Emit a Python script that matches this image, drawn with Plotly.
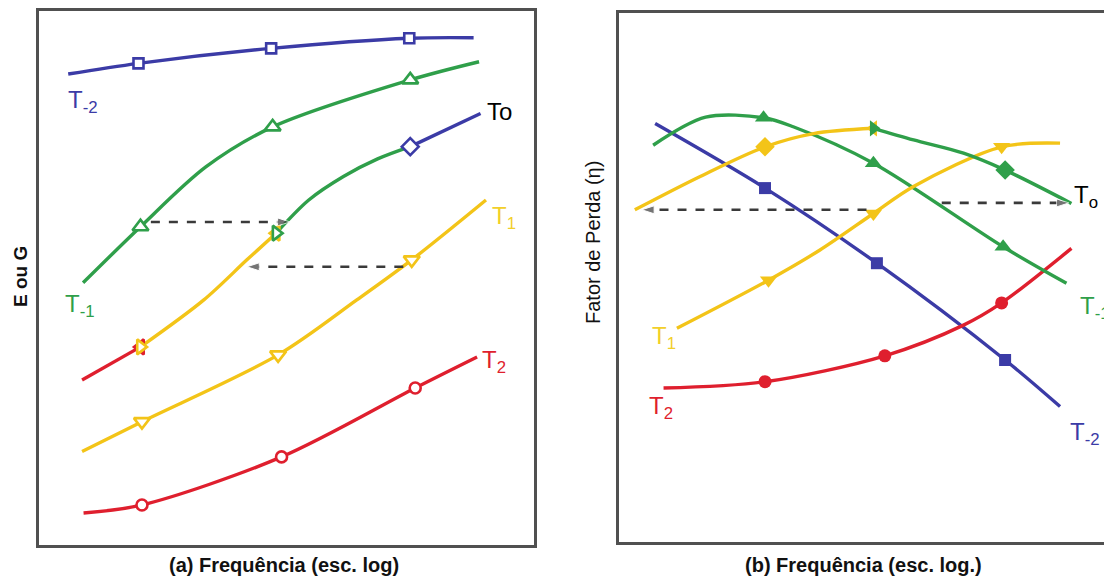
import plotly.graph_objects as go

BLUE = "#3b3ba6"
GREEN = "#2f9f4a"
YELLOW = "#f3c418"
RED = "#df1f2e"
FRAME = "#505050"
ARROW = "#3a3a3a"
FONT = "Liberation Sans, Arial, sans-serif"

# ---------------- Panel (a): E ou G vs log frequency (schematic units) ----------------
a_x_Tm2 = [0.59, 2.01, 4.69, 7.48, 8.78]
a_y_Tm2 = [8.82, 9.02, 9.30, 9.49, 9.50]
a_mk_Tm2 = [1, 2, 3]

a_x_Tm1 = [0.89, 2.05, 3.37, 4.72, 7.50, 8.89]
a_y_Tm1 = [4.91, 5.96, 7.08, 7.83, 8.71, 9.05]
a_mk_Tm1 = [1, 3, 4]

a_x_T1 = [0.87, 2.08, 4.83, 6.42, 7.53, 9.03]
a_y_T1 = [1.75, 2.31, 3.56, 4.59, 5.34, 6.46]
a_mk_T1 = [1, 2, 4]

a_x_T2 = [0.90, 2.08, 4.90, 7.60, 8.85]
a_y_T2 = [0.60, 0.75, 1.65, 2.94, 3.52]
a_mk_T2 = [1, 2, 3]

# master curve at To, built from shifted segments
a_x_To_red = [0.87, 2.05]
a_y_To_red = [3.09, 3.71]
a_x_To_yel = [2.05, 3.33, 4.20, 4.79]
a_y_To_yel = [3.71, 4.59, 5.34, 5.84]
a_x_To_grn = [4.79, 5.45, 6.15, 6.84, 7.50]
a_y_To_grn = [5.84, 6.46, 6.90, 7.23, 7.46]
a_x_To_blu = [7.50, 8.92]
a_y_To_blu = [7.46, 8.08]

# horizontal shift arrows (start, tip)
a_arrow1_x = [2.26, 5.07]
a_arrow1_y = [6.05, 6.05]
a_arrow2_x = [7.36, 4.20]
a_arrow2_y = [5.21, 5.21]

# ---------------- Panel (b): loss factor vs log frequency ----------------
b_x_Tm2 = [0.73, 2.95, 5.21, 7.80, 8.91]
b_y_Tm2 = [7.91, 6.69, 5.27, 3.44, 2.56]
b_mk_Tm2 = [1, 2, 3]

b_x_Tm1 = [0.69, 1.75, 2.92, 3.52, 5.14, 7.76, 9.04]
b_y_Tm1 = [7.50, 8.03, 8.02, 7.85, 7.16, 5.58, 4.89]
b_mk_Tm1 = [2, 4, 5]

b_x_T1 = [1.17, 3.02, 4.06, 5.14, 5.95, 7.73, 8.91]
b_y_T1 = [4.04, 4.95, 5.52, 6.21, 6.72, 7.47, 7.54]
b_mk_T1 = [1, 3, 5]

b_x_T2 = [0.90, 2.95, 5.37, 6.96, 7.73, 9.14]
b_y_T2 = [2.91, 3.03, 3.52, 4.10, 4.52, 5.55]
b_mk_T2 = [1, 2, 4]

b_x_To_yel = [0.32, 1.64, 2.95, 3.93, 5.14]
b_y_To_yel = [6.28, 6.91, 7.47, 7.72, 7.82]
b_x_To_grn = [5.14, 5.95, 6.96, 7.80, 9.14]
b_y_To_grn = [7.82, 7.60, 7.35, 7.03, 6.40]

b_arrow1_x = [5.00, 0.46]
b_arrow1_y = [6.28, 6.28]
b_arrow2_x = [6.52, 9.09]
b_arrow2_y = [6.41, 6.41]

fig = go.Figure()


def curve(xs, ys, color, xa, ya, width=3.4):
    fig.add_trace(go.Scatter(
        x=xs, y=ys, mode="lines", xaxis=xa, yaxis=ya,
        line=dict(color=color, width=width, shape="spline", smoothing=0.9),
        hoverinfo="skip", showlegend=False))


def marks(xs, ys, idx, color, symbol, size, xa, ya, filled):
    fig.add_trace(go.Scatter(
        x=[xs[i] for i in idx], y=[ys[i] for i in idx], mode="markers",
        xaxis=xa, yaxis=ya, hoverinfo="skip", showlegend=False,
        marker=dict(symbol=symbol, size=size,
                    color=color if filled else "white",
                    line=dict(color=color, width=0 if filled else 2.6))))


def arrow(xs, ys, xa, ya):
    fig.add_trace(go.Scatter(
        x=xs, y=ys, mode="lines+markers", xaxis=xa, yaxis=ya,
        line=dict(color=ARROW, width=2.6, dash="dash"),
        marker=dict(symbol="arrow", size=[0, 13], color=ARROW,
                    angleref="previous"),
        hoverinfo="skip", showlegend=False))


# panel (a): hollow markers
curve(a_x_Tm2, a_y_Tm2, BLUE, "x", "y")
marks(a_x_Tm2, a_y_Tm2, a_mk_Tm2, BLUE, "square", 10, "x", "y", False)
curve(a_x_Tm1, a_y_Tm1, GREEN, "x", "y")
marks(a_x_Tm1, a_y_Tm1, a_mk_Tm1, GREEN, "triangle-up", 14, "x", "y", False)
curve(a_x_T1, a_y_T1, YELLOW, "x", "y")
marks(a_x_T1, a_y_T1, a_mk_T1, YELLOW, "triangle-down", 14, "x", "y", False)
curve(a_x_T2, a_y_T2, RED, "x", "y")
marks(a_x_T2, a_y_T2, a_mk_T2, RED, "circle", 11, "x", "y", False)

curve(a_x_To_red, a_y_To_red, RED, "x", "y")
curve(a_x_To_yel, a_y_To_yel, YELLOW, "x", "y")
curve(a_x_To_grn, a_y_To_grn, GREEN, "x", "y")
curve(a_x_To_blu, a_y_To_blu, BLUE, "x", "y")
marks(a_x_To_red, a_y_To_red, [1], RED, "triangle-left", 13, "x", "y", False)
marks(a_x_To_yel, a_y_To_yel, [0], YELLOW, "triangle-right", 13, "x", "y", False)
marks(a_x_To_yel, a_y_To_yel, [3], YELLOW, "triangle-left", 13, "x", "y", False)
marks(a_x_To_grn, a_y_To_grn, [0], GREEN, "triangle-right", 13, "x", "y", False)
marks(a_x_To_blu, a_y_To_blu, [0], BLUE, "diamond", 13, "x", "y", False)

arrow(a_arrow1_x, a_arrow1_y, "x", "y")
arrow(a_arrow2_x, a_arrow2_y, "x", "y")

# panel (b): filled markers
curve(b_x_Tm2, b_y_Tm2, BLUE, "x2", "y2")
marks(b_x_Tm2, b_y_Tm2, b_mk_Tm2, BLUE, "square", 12, "x2", "y2", True)
curve(b_x_T2, b_y_T2, RED, "x2", "y2")
marks(b_x_T2, b_y_T2, b_mk_T2, RED, "circle", 13, "x2", "y2", True)
curve(b_x_Tm1, b_y_Tm1, GREEN, "x2", "y2")
marks(b_x_Tm1, b_y_Tm1, b_mk_Tm1, GREEN, "triangle-up", 15, "x2", "y2", True)
curve(b_x_T1, b_y_T1, YELLOW, "x2", "y2")
marks(b_x_T1, b_y_T1, b_mk_T1, YELLOW, "triangle-down", 15, "x2", "y2", True)

curve(b_x_To_yel, b_y_To_yel, YELLOW, "x2", "y2")
curve(b_x_To_grn, b_y_To_grn, GREEN, "x2", "y2")
marks(b_x_To_yel, b_y_To_yel, [2], YELLOW, "diamond", 15, "x2", "y2", True)
marks(b_x_To_yel, b_y_To_yel, [4], YELLOW, "triangle-left", 14, "x2", "y2", True)
marks(b_x_To_grn, b_y_To_grn, [0], GREEN, "triangle-right", 14, "x2", "y2", True)
marks(b_x_To_grn, b_y_To_grn, [3], GREEN, "diamond", 15, "x2", "y2", True)

arrow(b_arrow1_x, b_arrow1_y, "x2", "y2")
arrow(b_arrow2_x, b_arrow2_y, "x2", "y2")

W, H = 1104, 580
axis_common = dict(showgrid=False, zeroline=False, showticklabels=False,
                   ticks="", showline=True, linecolor=FRAME, linewidth=3,
                   fixedrange=True)

fig.update_layout(
    width=W, height=H, margin=dict(l=0, r=0, t=0, b=0),
    paper_bgcolor="white", plot_bgcolor="white",
    font=dict(family=FONT),
    xaxis=dict(domain=[39 / W, 534 / W], range=[0, 10], mirror=True, **axis_common),
    yaxis=dict(domain=[35 / H, 569 / H], range=[0, 10], mirror=True, **axis_common),
    xaxis2=dict(domain=[619 / W, 1.0], range=[0, 485 / 49.5], mirror=True,
                anchor="y2", **axis_common),
    yaxis2=dict(domain=[38 / H, 567 / H], range=[0, 10], mirror=False,
                anchor="x2", **axis_common),
)


def label(text, x, y, color, xa, ya, size=24):
    fig.add_annotation(text=text, x=x, y=y, xref=xa, yref=ya, showarrow=False,
                       xanchor="left", yanchor="middle",
                       font=dict(family=FONT, size=size, color=color))


# curve labels, panel (a)
label("T<sub>-2</sub>", 0.55, 8.30, BLUE, "x", "y")
label("To", 9.00, 8.11, "black", "x", "y")
label("T<sub>1</sub>", 9.11, 6.13, "#f2cf2a", "x", "y")
label("T<sub>-1</sub>", 0.48, 4.48, GREEN, "x", "y")
label("T<sub>2</sub>", 8.91, 3.43, RED, "x", "y")

# curve labels, panel (b)
label("T<sub>-2</sub>", 9.07, 2.05, BLUE, "x2", "y2")
label("T<sub>-1</sub>", 9.27, 4.43, GREEN, "x2", "y2")
label("T<sub>o</sub>", 9.15, 6.53, "black", "x2", "y2")
label("T<sub>1</sub>", 0.63, 3.87, "#f2cf2a", "x2", "y2")
label("T<sub>2</sub>", 0.57, 2.54, RED, "x2", "y2")


def title(text, x_px, y_px, size, angle=0):
    fig.add_annotation(text=text, x=x_px / W, y=(H - y_px) / H,
                       xref="paper", yref="paper", showarrow=False,
                       xanchor="center", yanchor="middle", textangle=angle,
                       font=dict(family=FONT, size=size, color="#111"))


# axis titles
title("<b>E ou G</b>", 20, 277, 19, -90)
title("Fator de Perda (η)", 593, 243, 20, -90)
title("<b>(a) Frequência (esc. log)</b>", 284, 565, 20)
title("<b>(b) Frequência (esc. log.)</b>", 863, 565, 20)

fig.write_html("out.html")
